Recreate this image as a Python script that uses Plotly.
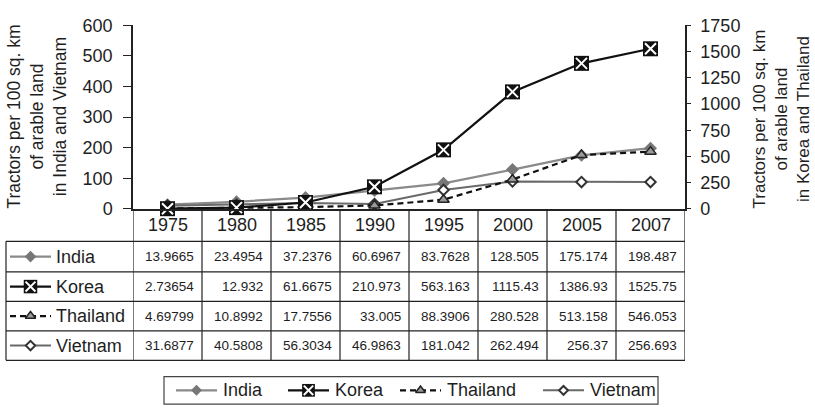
import plotly.graph_objects as go

# ---- data -------------------------------------------------------------
years = ["1975", "1980", "1985", "1990", "1995", "2000", "2005", "2007"]
india = [13.9665, 23.4954, 37.2376, 60.6967, 83.7628, 128.505, 175.174, 198.487]
korea = [2.73654, 12.932, 61.6675, 210.973, 563.163, 1115.43, 1386.93, 1525.75]
thailand = [4.69799, 10.8992, 17.7556, 33.005, 88.3906, 280.528, 513.158, 546.053]
vietnam = [31.6877, 40.5808, 56.3034, 46.9863, 181.042, 262.494, 256.37, 256.693]

series_names = ["India", "Korea", "Thailand", "Vietnam"]
series_values = [india, korea, thailand, vietnam]
series_yaxis = ["y", "y2", "y2", "y2"]

left_ticks = [0, 100, 200, 300, 400, 500, 600]
right_ticks = [0, 250, 500, 750, 1000, 1250, 1500, 1750]

left_title = "Tractors per 100 sq. km<br>of arable land<br>in India and Vietnam"
right_title = "Tractors per 100 sq. km<br>of arable land<br>in Korea and Thailand"

# ---- page geometry (pixels) ------------------------------------------
W, H = 815, 417
FONT = "Liberation Sans, Arial, sans-serif"
INK = "#1e1e1e"
GRID = "#222222"

PLOT_L, PLOT_R, PLOT_T, PLOT_B = 133, 685, 16, 209
TABLE_L = 6
ROW_EDGES = [209, 243, 275, 306, 337, 368]
LEG_BOX = (164, 385, 658, 414)
LEG_ITEMS = {"India": 176, "Korea": 288, "Thailand": 400, "Vietnam": 543}
KEY_W = 41


def px(x):
    return x / W


def py(y):
    return 1 - y / H


STYLES = {
    "India": dict(line=dict(color="#8a8a8a", width=2.2),
                  marker=dict(symbol="diamond", size=10, color="#777777",
                              line=dict(width=0))),
    "Korea": dict(line=dict(color="#111111", width=2.2),
                  marker=dict(symbol="square", size=15, color="#111111",
                              line=dict(width=0))),
    "Thailand": dict(line=dict(color="#111111", width=2.2, dash="6px,4px"),
                     marker=dict(symbol="triangle-up", size=10, color="#9a9a9a",
                                 line=dict(color="#222222", width=1.5))),
    "Vietnam": dict(line=dict(color="#6a6a6a", width=2),
                    marker=dict(symbol="diamond", size=8, color="white",
                                line=dict(color="#333333", width=2))),
}
X_OVERLAY = dict(symbol="x-thin-open", size=11, color="white",
                 line=dict(color="white", width=2))

fig = go.Figure()

# ---- chart lines -------------------------------------------------------
draw_order = ["Vietnam", "India", "Thailand", "Korea"]
for name in draw_order:
    i = series_names.index(name)
    st = STYLES[name]
    fig.add_trace(go.Scatter(
        x=years, y=series_values[i], yaxis=series_yaxis[i], name=name,
        mode="lines+markers", line=st["line"], marker=st["marker"],
        cliponaxis=False, showlegend=False, hoverinfo="skip"))
    if name == "Korea":
        fig.add_trace(go.Scatter(
            x=years, y=series_values[i], yaxis=series_yaxis[i],
            mode="markers", marker=X_OVERLAY, cliponaxis=False,
            showlegend=False, hoverinfo="skip"))


# ---- key glyphs (table row labels and bottom legend) -----------------
def add_key(name, x0, yc, scale=1.0):
    st = STYLES[name]
    fig.add_trace(go.Scatter(
        x=[x0, x0 + KEY_W], y=[yc, yc], xaxis="x2", yaxis="y4",
        mode="lines", line=st["line"], cliponaxis=False,
        showlegend=False, hoverinfo="skip"))
    m = dict(st["marker"])
    m["size"] = m["size"] * scale
    fig.add_trace(go.Scatter(
        x=[x0 + KEY_W / 2], y=[yc], xaxis="x2", yaxis="y4",
        mode="markers", marker=m, cliponaxis=False,
        showlegend=False, hoverinfo="skip"))
    if name == "Korea":
        xm = dict(X_OVERLAY)
        xm["size"] = X_OVERLAY["size"] * scale
        fig.add_trace(go.Scatter(
            x=[x0 + KEY_W / 2], y=[yc], xaxis="x2", yaxis="y4",
            mode="markers", marker=xm, cliponaxis=False,
            showlegend=False, hoverinfo="skip"))


shapes = []
annotations = []

# data table under the plot
for r, name in enumerate(series_names):
    y0, y1 = ROW_EDGES[r + 1], ROW_EDGES[r + 2]
    yc = (y0 + y1) / 2
    add_key(name, 10, yc, scale=0.9)
    annotations.append(dict(
        text=name, xref="paper", yref="paper", x=px(54), y=py(yc),
        xanchor="left", yanchor="middle", showarrow=False,
        font=dict(family=FONT, size=18, color=INK)))
    for c, v in enumerate(series_values[r]):
        annotations.append(dict(
            text=format(v, "g"), xref="x", yref="paper", x=c + 0.5, y=py(yc),
            xanchor="right", yanchor="middle", xshift=-6, showarrow=False,
            font=dict(family=FONT, size=13.5, color=INK)))

for c, yr in enumerate(years):
    annotations.append(dict(
        text=yr, xref="x", yref="paper", x=c, y=py((ROW_EDGES[0] + ROW_EDGES[1]) / 2),
        xanchor="center", yanchor="middle", showarrow=False,
        font=dict(family=FONT, size=18, color=INK)))

line_style = dict(color=GRID, width=1.2)
for yy in ROW_EDGES[1:]:
    shapes.append(dict(type="line", xref="paper", yref="paper",
                       x0=px(TABLE_L), x1=px(PLOT_R), y0=py(yy), y1=py(yy),
                       line=line_style))
shapes.append(dict(type="line", xref="paper", yref="paper",
                   x0=px(TABLE_L), x1=px(TABLE_L),
                   y0=py(ROW_EDGES[1]), y1=py(ROW_EDGES[-1]), line=line_style))
for c in range(len(years) + 1):
    shapes.append(dict(type="line", xref="x", yref="paper",
                       x0=c - 0.5, x1=c - 0.5,
                       y0=py(ROW_EDGES[0]), y1=py(ROW_EDGES[-1]),
                       line=line_style))

# bottom legend
lx0, ly0, lx1, ly1 = LEG_BOX
shapes.append(dict(type="rect", xref="paper", yref="paper",
                   x0=px(lx0), x1=px(lx1), y0=py(ly0), y1=py(ly1),
                   line=dict(color="#444444", width=1.2), fillcolor="rgba(0,0,0,0)"))
leg_y = (ly0 + ly1) / 2
for name in series_names:
    x0 = LEG_ITEMS[name]
    add_key(name, x0, leg_y, scale=0.85)
    annotations.append(dict(
        text=name, xref="paper", yref="paper", x=px(x0 + KEY_W + 4), y=py(leg_y),
        xanchor="left", yanchor="middle", showarrow=False,
        font=dict(family=FONT, size=18, color=INK)))

# axis titles
annotations.append(dict(
    text=left_title, xref="paper", yref="paper", x=px(37), y=py(112),
    xanchor="center", yanchor="middle", textangle=-90, showarrow=False,
    font=dict(family=FONT, size=17.5, color=INK)))
annotations.append(dict(
    text=right_title, xref="paper", yref="paper", x=px(781), y=py(115),
    xanchor="center", yanchor="middle", textangle=-90, showarrow=False,
    font=dict(family=FONT, size=17, color=INK)))

tick_font = dict(family=FONT, size=18, color=INK)
fig.update_layout(
    width=W, height=H,
    margin=dict(l=0, r=0, t=0, b=0),
    paper_bgcolor="white", plot_bgcolor="rgba(0,0,0,0)",
    showlegend=False,
    xaxis=dict(domain=[px(PLOT_L), px(PLOT_R)], type="category",
               range=[-0.5, len(years) - 0.5], anchor="y",
               showline=True, linecolor=GRID, linewidth=1.5,
               ticks="", showticklabels=False, showgrid=False, zeroline=False,
               fixedrange=True),
    yaxis=dict(domain=[py(PLOT_B), py(PLOT_T)], range=[0, 600],
               tickvals=left_ticks, ticks="outside", ticklen=8, tickwidth=1.2,
               tickcolor=GRID, showline=True, linecolor=GRID, linewidth=1.5,
               showgrid=False, zeroline=False, tickfont=tick_font,
               ticklabelstandoff=7, anchor="x"),
    yaxis2=dict(overlaying="y", side="right", anchor="x", range=[0, 1750],
                tickvals=right_ticks, ticks="outside", ticklen=4, tickwidth=1.2,
                tickcolor=GRID, showline=True, linecolor=GRID, linewidth=1.5,
                showgrid=False, zeroline=False, tickfont=tick_font,
                ticklabelstandoff=6),
    yaxis3=dict(overlaying="y", side="right", anchor="x", range=[0, 1750],
                tickvals=right_ticks, ticks="inside", ticklen=4, tickwidth=1.2,
                tickcolor=GRID, showline=False, showticklabels=False,
                showgrid=False, zeroline=False),
    xaxis2=dict(domain=[0, 1], range=[0, W], visible=False, anchor="y4",
                fixedrange=True),
    yaxis4=dict(domain=[0, 1], range=[H, 0], visible=False, anchor="x2",
                fixedrange=True),
    shapes=shapes,
    annotations=annotations,
)

fig.write_html("out.html")
